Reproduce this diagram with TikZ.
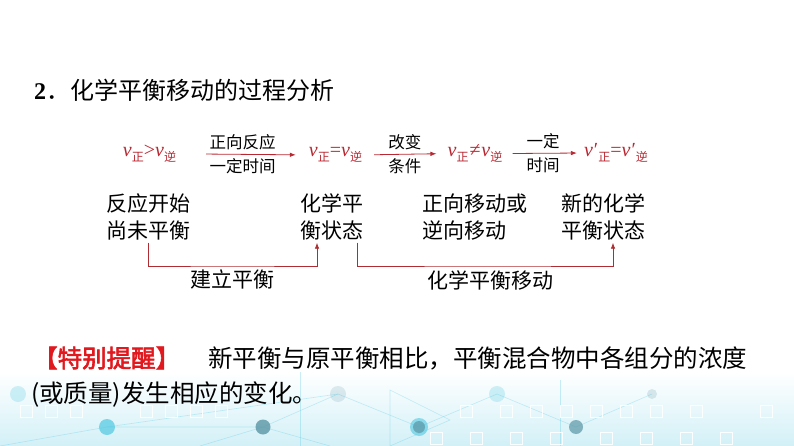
\documentclass[tikz,border=0pt]{standalone}
\usepackage{fontspec}
\setmainfont{Liberation Serif}
\newfontfamily\cjk{Noto Sans CJK SC}
\newfontfamily\cjkbold[FakeBold=2.5]{Noto Sans CJK SC}
\usetikzlibrary{arrows.meta,calc}
\definecolor{fred}{RGB}{185,40,50}
\definecolor{cred}{RGB}{175,45,50}
\definecolor{tred}{RGB}{225,25,30}
\definecolor{bgc}{RGB}{210,240,247}
\definecolor{dotc}{RGB}{80,200,225}
\definecolor{dotg}{RGB}{90,150,165}
\newcommand{\vz}[1]{\textit{v}\raisebox{-0.45ex}{\fontsize{12}{12}\selectfont\cjk #1}}
\newcommand{\vp}[1]{\textit{v}\kern1pt′\raisebox{-0.45ex}{\fontsize{12}{12}\selectfont\cjk #1}}
\tikzset{
  formula/.style={inner sep=0pt, anchor=base, text=fred, font=\fontsize{20}{20}\selectfont},
  arr/.style={draw=fred, line width=0.8pt, -{Latex[length=6pt,width=4.5pt]}},
  alab/.style={font=\fontsize{16.5}{16.5}\selectfont\cjk, inner sep=4pt},
  stage/.style={font=\fontsize{21}{27.5}\selectfont\cjk, align=left, inner sep=2pt},
  conn/.style={draw=cred, line width=0.8pt, -{Latex[length=6pt,width=4.5pt]}},
  clab/.style={font=\fontsize{21}{21}\selectfont\cjk, inner sep=0pt},
  body/.style={font=\fontsize{24.5}{24.5}\selectfont\cjk, inner sep=0pt, anchor=west},
}
\begin{document}
\begin{tikzpicture}[x=1pt,y=-1pt]
\useasboundingbox (0,0) rectangle (794,446);
% background decoration
\fill[white] (0,0) rectangle (794,446);
\shade[top color=white, bottom color=bgc] (0,372) rectangle (794,446);
\begin{scope}[draw=dotc, line width=0.6pt, opacity=0.3]
  \draw (0,446) -- (107,427) -- (263,427);
  \draw (107,427) -- (338,394) -- (419,427) -- (497,394) -- (576,427) -- (652,394);
  \draw (263,427) -- (338,394);
  \draw (300,446) -- (300,372);
  \draw (390,446) -- (390,390) -- (450,420) -- (390,446);
  \draw (560,446) -- (560,380);
  \draw (200,446) -- (263,427) -- (330,446);
\end{scope}
\begin{scope}[draw=white, line width=1pt, opacity=0.9]
  \foreach \x in {20,45,70,140,165,190,215,460,500,530,560,590,620,650,690,760}
    \draw (\x,405) rectangle ++(12,12);
  \foreach \x in {430,470,510,550,600,640,680,720}
    \draw (\x,432) rectangle ++(12,12);
\end{scope}
\fill[dotc, opacity=0.7] (107,427) circle (8);
\fill[dotg, opacity=0.8] (263,427) circle (7.5);
\fill[dotc, opacity=0.6] (419,427) circle (9);
\fill[dotg, opacity=0.7] (419,427) circle (6);
\fill[dotg, opacity=0.7] (576,427) circle (7);
\fill[dotg, opacity=0.18] (338,394) circle (8);
\fill[dotc, opacity=0.25] (497,394) circle (8);
\fill[dotg, opacity=0.2] (652,394) circle (5);
\fill[dotc, opacity=0.25] (18,394) circle (8);

% title
\node[anchor=west, inner sep=0pt, font=\fontsize{24}{24}\selectfont] (title) at (34,90)
  {\textbf{2}{\cjk ．化学平衡移动的过程分析}};

% row 1 formulas
\node[formula] (f1) at (149.5,157) {\vz{正}>\vz{逆}};
\node[formula] (f2) at (335.5,157) {\vz{正}=\vz{逆}};
\node[formula] (f3) at (475,157) {\vz{正}\kern1pt≠\kern1pt\vz{逆}};
\node[formula] (f4) at (616,157) {\vp{正}=\vp{逆}};

\draw[arr, shorten <=30pt, shorten >=13pt] (f1.east) -- (f2.west)
  node[midway, above, alab] (l1a) {正向反应}
  node[midway, below, alab] (l1b) {一定时间};
\draw[arr, shorten <=12pt, shorten >=11pt] (f2.east) -- (f3.west)
  node[midway, above, alab] (l2a) {改变}
  node[midway, below, alab] (l2b) {条件};
\draw[arr, shorten <=10pt, shorten >=7pt] (f3.east) -- (f4.west)
  node[midway, above, alab] (l3a) {一定}
  node[midway, below, alab] (l3b) {时间};

% row 2 stages
\node[stage] (n1) at (148,217) {反应开始\\尚未平衡};
\node[stage] (n2) at (332,217) {化学平\\衡状态};
\node[stage] (n3) at (475,217) {正向移动或\\逆向移动};
\node[stage] (n4) at (603,217) {新的化学\\平衡状态};

\coordinate (h1) at (232,266);
\coordinate (h2) at (490,266);
\draw[conn] (n1.south) |- (h1) -| ($(n2.south)+(-15,0)$);
\draw[conn] ($(n2.south)+(25,0)$) |- (h2) -| ($(n4.south)+(10,0)$);
\node[clab] (c1) at (232,279) {建立平衡};
\node[clab] (c2) at (490,280) {化学平衡移动};

% note
\node[body, text=tred] (t1) at (33,358) {\cjkbold 【特别提醒】};
\node[body] (t2) at (208,358) {新平衡与原平衡相比，平衡混合物中各组分的浓度};
\node[body] (t3) at (31,394) {(或质量)发生相应的变化。};
\end{tikzpicture}
\end{document}
